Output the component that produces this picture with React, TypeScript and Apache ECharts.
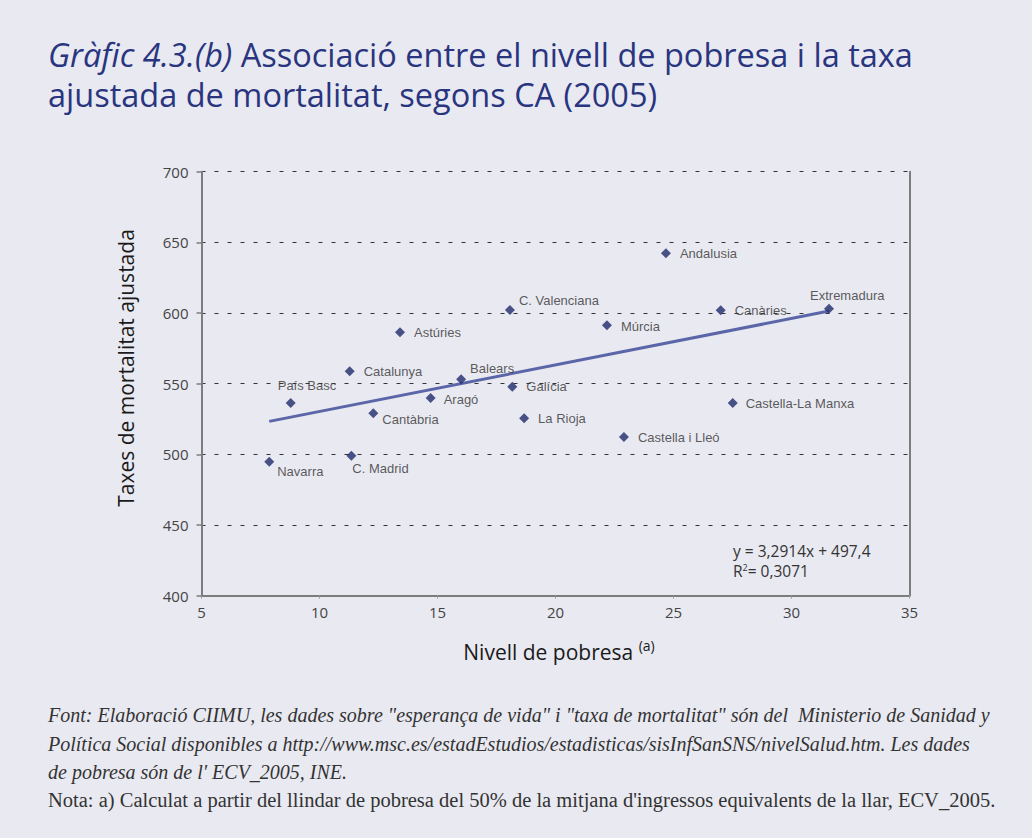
import React, { useEffect, useRef } from "react";
import * as echarts from "echarts";

const regions = [
  "Navarra", "C. Madrid", "País Basc", "Catalunya", "Astúries", "Cantàbria",
  "Aragó", "Balears", "C. Valenciana", "Galícia", "La Rioja", "Múrcia",
  "Castella i Lleó", "Andalusia", "Canàries", "Castella-La Manxa", "Extremadura",
];
const povertyLevel = [
  7.87, 11.35, 8.78, 11.28, 13.41, 12.28, 14.71, 16.0, 18.07, 18.17, 18.67,
  22.18, 22.9, 24.68, 27.0, 27.51, 31.59,
];
const mortalityRate = [
  494.8, 499.0, 536.3, 558.7, 586.3, 529.0, 539.8, 553.1, 602.1, 547.8, 525.5,
  591.3, 512.2, 642.3, 601.9, 536.3, 603.0,
];
// label placement: [dx from marker centre to text start, dy to text middle]
const labelOffsets: [number, number][] = [
  [8, 10], [1, 13], [-13, -18], [14, 0], [14, 0], [9, 6], [13, 1], [9, -11],
  [9, -10], [14, 0], [14, 0], [14, 1], [14, 0], [14, 0], [14, 0], [13, 0], [-19, -13],
];
const trendSlope = 3.2914;
const trendIntercept = 497.4;
const trendRange = [7.87, 31.59];
const xTicks = { min: 5, max: 35, interval: 5 };
const yTicks = { min: 400, max: 700, interval: 50 };

const titleItalic = "Gràfic 4.3.(b)";
const titleLine1 = " Associació entre el nivell de pobresa i la taxa";
const titleLine2 = "ajustada de mortalitat, segons CA (2005)";
const footerLines = [
  'Font: Elaboració CIIMU, les dades sobre "esperança de vida" i "taxa de mortalitat" són del  Ministerio de Sanidad y',
  "Política Social disponibles a http://www.msc.es/estadEstudios/estadisticas/sisInfSanSNS/nivelSalud.htm. Les dades",
  "de pobresa són de l' ECV_2005, INE.",
];
const noteLine =
  "Nota: a) Calculat a partir del llindar de pobresa del 50% de la mitjana d'ingressos equivalents de la llar, ECV_2005.";

const SANS = "'Open Sans', 'Noto Sans', sans-serif";
const SERIF = "'Liberation Serif', 'DejaVu Serif', serif";

export default function App() {
  const ref = useRef<HTMLDivElement>(null);
  useEffect(() => {
    document.body.style.margin = "0";
    const chart = echarts.init(ref.current!, null, { renderer: "svg" });
    const points = regions.map((name, i) => ({
      name,
      value: [povertyLevel[i], mortalityRate[i]],
      label: { offset: labelOffsets[i] },
    }));
    const trend = trendRange.map((x) => [x, trendSlope * x + trendIntercept]);
    const titleColor = "#29357f";
    const titleSize = 32.5;
    chart.setOption({
      animation: false,
      backgroundColor: "#e9e9f1",
      grid: { left: 201.5, right: 122.5, top: 171.7, bottom: 242.4 },
      xAxis: {
        type: "value",
        min: xTicks.min,
        max: xTicks.max,
        interval: xTicks.interval,
        axisLine: { show: true, lineStyle: { color: "#7d7d7d", width: 2 } },
        axisTick: { show: true, length: 3, lineStyle: { color: "#9a9a9a", width: 1 } },
        axisLabel: { margin: 9, fontFamily: SANS, fontSize: 15, color: "#444" },
        splitLine: { show: false },
      },
      yAxis: [
        {
          type: "value",
          min: yTicks.min,
          max: yTicks.max,
          interval: yTicks.interval,
          axisLine: { show: true, lineStyle: { color: "#7d7d7d", width: 2 } },
          axisTick: { show: true, length: 5, lineStyle: { color: "#7d7d7d", width: 1.5 } },
          axisLabel: { margin: 13, fontFamily: SANS, fontSize: 15, color: "#444" },
          splitLine: {
            show: true,
            lineStyle: { color: "#333", width: 1, type: [4, 9] },
          },
        },
        {
          type: "value",
          position: "right",
          min: yTicks.min,
          max: yTicks.max,
          interval: yTicks.interval,
          axisLine: { show: true, lineStyle: { color: "#7d7d7d", width: 2 } },
          axisTick: { show: false },
          axisLabel: { show: false },
          splitLine: { show: false },
        },
      ],
      series: [
        {
          type: "line",
          data: trend,
          symbol: "none",
          lineStyle: { color: "#5a66a8", width: 3 },
          z: 2,
        },
        {
          type: "scatter",
          data: points,
          symbol: "diamond",
          symbolSize: 10,
          itemStyle: { color: "#1f2a6c" },
          z: 3,
          label: {
            show: true,
            position: "inside",
            align: "left",
            verticalAlign: "middle",
            formatter: "{b}",
            fontFamily: "'Liberation Sans', Arial, sans-serif",
            fontSize: 13,
            color: "#333",
          },
        },
      ],
      graphic: [
        {
          type: "text",
          x: 48,
          y: 34,
          style: {
            text: `{i|${titleItalic}}{n|${titleLine1}}\n{n|${titleLine2}}`,
            verticalAlign: "top",
            rich: {
              i: { fontStyle: "italic", fontFamily: SANS, fontSize: titleSize, lineHeight: 40.5, fill: titleColor },
              n: { fontFamily: SANS, fontSize: titleSize, lineHeight: 40.5, fill: titleColor },
            },
          },
        },
        {
          type: "text",
          x: 126,
          y: 368,
          rotation: Math.PI / 2,
          style: {
            text: "Taxes de mortalitat ajustada",
            fontFamily: SANS,
            fontSize: 21,
            fill: "#1a1a1a",
            align: "center",
            verticalAlign: "middle",
          },
        },
        {
          type: "text",
          x: 559,
          y: 652,
          style: {
            text: "{n|Nivell de pobresa }{s|(a)}",
            align: "center",
            verticalAlign: "middle",
            rich: {
              n: { fontFamily: SANS, fontSize: 21, lineHeight: 28, fill: "#1a1a1a" },
              s: { fontFamily: SANS, fontSize: 14, lineHeight: 15, verticalAlign: "top", fill: "#1a1a1a" },
            },
          },
        },
        {
          type: "text",
          x: 733,
          y: 551,
          style: {
            text: "y = 3,2914x + 497,4",
            fontFamily: SANS,
            fontSize: 15.5,
            fill: "#333",
            verticalAlign: "middle",
          },
        },
        {
          type: "text",
          x: 733,
          y: 571,
          style: {
            text: "{r|R}{s|2}{r|= 0,3071}",
            verticalAlign: "middle",
            rich: {
              r: { fontFamily: SANS, fontSize: 15.5, lineHeight: 17, fill: "#333" },
              s: { fontFamily: SANS, fontSize: 9, lineHeight: 10, verticalAlign: "top", fill: "#333" },
            },
          },
        },
        ...footerLines.map((t, i) => ({
          type: "text",
          x: 48,
          y: 725 + i * 28.5,
          style: {
            text: t,
            fontFamily: SERIF,
            fontStyle: "italic",
            fontSize: 20,
            fill: "#333",
            verticalAlign: "bottom",
          },
        })),
        {
          type: "text",
          x: 48,
          y: 725 + 3 * 28.5,
          style: {
            text: noteLine,
            fontFamily: SERIF,
            fontSize: 20.5,
            fill: "#333",
            verticalAlign: "bottom",
          },
        },
      ],
    });
    return () => chart.dispose();
  }, []);
  return (
    <div
      ref={ref}
      style={{ position: "absolute", left: 0, top: 0, width: 1032, height: 838 }}
    />
  );
}
